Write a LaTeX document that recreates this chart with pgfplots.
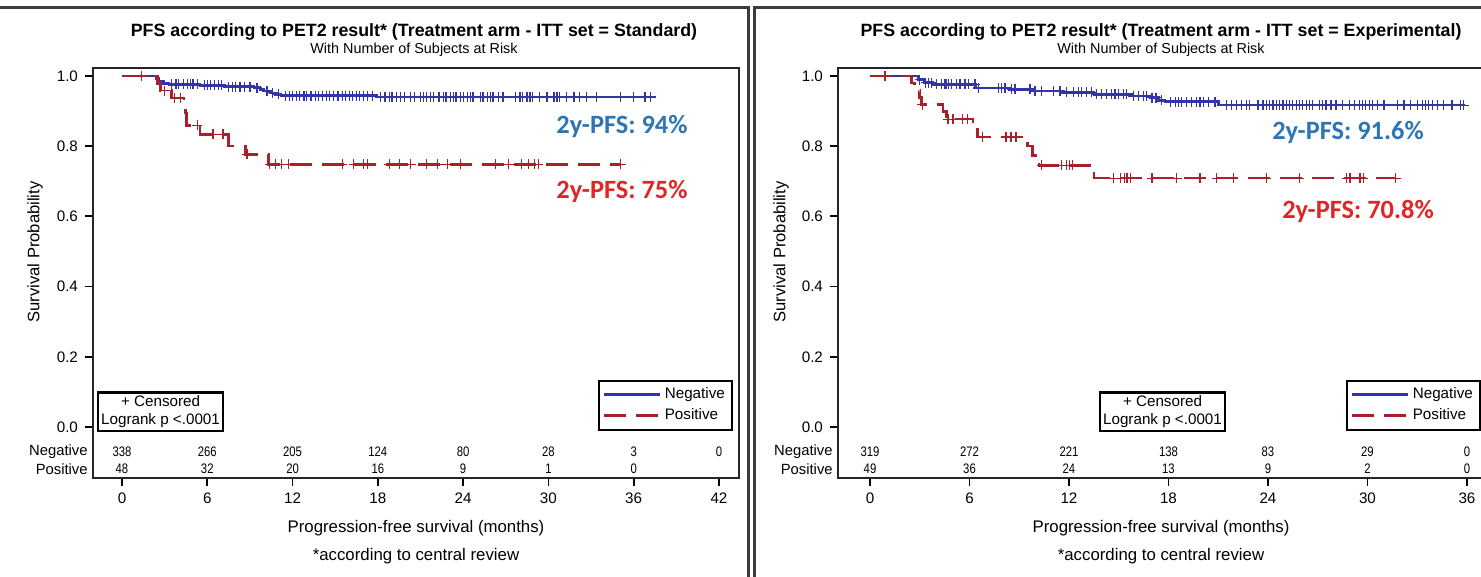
\documentclass[border=0pt]{standalone}
\usepackage{pgfplots}
\pgfplotsset{compat=1.18}
\usepackage{fontspec}
\setmainfont{Liberation Sans}
\newfontfamily\calib{Carlito}
\newfontfamily\narrow{Liberation Sans}[FakeStretch=0.82]
\definecolor{kmblue}{RGB}{52,52,170}
\definecolor{kmred}{RGB}{168,32,42}
\definecolor{annblue}{RGB}{46,117,182}
\definecolor{annred}{RGB}{222,38,38}
\definecolor{framegray}{RGB}{60,60,60}
\pgfplotsset{
  kmaxis/.style={
    scale only axis, height=205pt,
    ymin=-0.1453, ymax=1.0228,
    ytick={0,0.2,0.4,0.6,0.8,1.0},
    yticklabel style={/pgf/number format/.cd, fixed, fixed zerofill, precision=1, assume math mode=true},
    xticklabel style={/pgf/number format/assume math mode=true},
    tick label style={font=\fontsize{7.6}{9}\selectfont},
    xtick pos=bottom, ytick pos=left,
    tick align=outside, major tick length=4pt,
    tick style={black, line width=0.9pt},
    axis line style={line width=1.2pt, black!85},
    clip=false,
    legend cell align=left,
    legend image code/.code={\draw[#1] (0pt,0pt) -- (28pt,0pt);},
  },
  blueline/.style={color=kmblue, line width=1.3pt, const plot, no marks},
  redline/.style={color=kmred, line width=1.3pt, const plot, no marks, dash pattern=on 11pt off 5pt},
  bluecens/.style={only marks, mark=+, mark size=2.5pt, color=kmblue, mark options={line width=0.6pt, solid}},
  redcens/.style={only marks, mark=+, mark size=2.5pt, color=kmred, mark options={line width=0.6pt, solid}},
}
\begin{document}
\begin{tikzpicture}
\useasboundingbox (0,0) rectangle (740.5pt,288.5pt);
% ---------------- LEFT PANEL ----------------
\begin{axis}[kmaxis, width=323pt, at={(46.5pt,49.5pt)}, anchor=south west,
  xmin=-2.040, xmax=43.41, xtick={0,6,12,18,24,30,36,42},
  legend style={at={(axis cs:42.99,-0.0114)}, anchor=south east, draw=black, line width=1.2pt,
    font=\fontsize{7.6}{9}\selectfont, inner sep=1.5pt, row sep=-0.5pt}]
\addplot[blueline] coordinates {(0,1) (2.4,0.992) (2.6,0.985) (2.9,0.979) (3.3,0.976) (5.5,0.973) (7.2,0.970) (9.3,0.967) (9.7,0.962) (10.0,0.957) (10.4,0.952) (10.8,0.948) (11.2,0.944) (17.9,0.940) (37.6,0.940)};
\addlegendentry{Negative}
\addplot[redline] coordinates {(0,1) (2.5,0.979) (2.7,0.958) (3.5,0.937) (4.35,0.916) (4.45,0.895) (4.55,0.859) (5.5,0.834) (7.5,0.801) (8.7,0.777) (10.3,0.748) (35.1,0.748)};
\addlegendentry{Positive}
\addplot[bluecens, forget plot] coordinates {
(3.5,0.976) (3.8,0.976) (4.0,0.976) (4.3,0.976) (4.6,0.976) (4.8,0.976) (5.0,0.976) (5.3,0.976)
(5.8,0.973) (6.0,0.973) (6.2,0.973) (6.5,0.973) (6.8,0.973) (7.0,0.973)
(7.5,0.970) (7.8,0.970) (8.0,0.970) (8.3,0.970) (8.6,0.970) (9.0,0.970)
(9.5,0.967) (10.2,0.957) (10.6,0.952) (11.0,0.948)
(11.5,0.944) (11.8,0.944) (12.0,0.944) (12.3,0.944) (12.5,0.944) (12.8,0.944) (13.0,0.944) (13.3,0.944) (13.6,0.944) (13.8,0.944) (14.1,0.944) (14.4,0.944) (14.6,0.944) (14.9,0.944) (15.2,0.944) (15.5,0.944) (15.7,0.944) (16.0,0.944) (16.2,0.944) (16.5,0.944) (16.7,0.944) (17.0,0.944) (17.3,0.944) (17.6,0.944)
(18.2,0.940) (18.5,0.940) (18.8,0.940) (19.0,0.940) (19.3,0.940) (19.6,0.940) (19.9,0.940) (20.3,0.940) (20.6,0.940) (21.0,0.940) (21.2,0.940) (21.4,0.940) (21.7,0.940) (21.9,0.940) (22.3,0.940) (22.6,0.940) (22.8,0.940) (23.1,0.940) (23.3,0.940) (23.5,0.940) (23.8,0.940) (24.0,0.940) (24.3,0.940) (24.5,0.940) (24.7,0.940) (25.2,0.940) (25.4,0.940) (25.7,0.940) (25.9,0.940) (26.1,0.940) (26.5,0.940) (26.8,0.940) (27.7,0.940) (28.0,0.940) (28.2,0.940) (28.5,0.940) (28.7,0.940) (28.9,0.940) (29.4,0.940) (29.9,0.940) (30.4,0.940) (30.6,0.940) (30.8,0.940) (31.3,0.940) (31.8,0.940) (32.2,0.940) (32.7,0.940) (33.4,0.940) (35.1,0.940) (36.0,0.940) (36.8,0.940) (37.2,0.940)};
\addplot[redcens, forget plot] coordinates {
(1.4,1.0) (3.0,0.958) (3.7,0.937) (4.1,0.937) (5.3,0.859) (6.4,0.834) (7.1,0.834) (8.8,0.777)
(10.4,0.748) (10.8,0.748) (11.2,0.748) (11.7,0.748) (15.5,0.748) (16.3,0.748) (17.0,0.748) (17.3,0.748) (18.8,0.748) (19.5,0.748) (20.3,0.748) (21.4,0.748) (22.2,0.748) (22.9,0.748) (23.8,0.748) (26.3,0.748) (27.2,0.748) (28.1,0.748) (28.6,0.748) (29.0,0.748) (29.3,0.748) (35.1,0.748)};
% at-risk
\begin{scope}[every node/.style={font=\narrow\fontsize{6.9}{7}\selectfont}]
\node at (axis cs:0,-0.0712) {338}; \node at (axis cs:6,-0.0712) {266}; \node at (axis cs:12,-0.0712) {205};
\node at (axis cs:18,-0.0712) {124}; \node at (axis cs:24,-0.0712) {80}; \node at (axis cs:30,-0.0712) {28};
\node at (axis cs:36,-0.0712) {3}; \node at (axis cs:42,-0.0712) {0};
\node at (axis cs:0,-0.1197) {48}; \node at (axis cs:6,-0.1197) {32}; \node at (axis cs:12,-0.1197) {20};
\node at (axis cs:18,-0.1197) {16}; \node at (axis cs:24,-0.1197) {9}; \node at (axis cs:30,-0.1197) {1};
\node at (axis cs:36,-0.1197) {0};
\end{scope}
\node[anchor=east, inner sep=0pt, font=\fontsize{7.4}{8}\selectfont] at (axis cs:-2.39,-0.0712) {Negative};
\node[anchor=east, inner sep=0pt, font=\fontsize{7.4}{8}\selectfont] at (axis cs:-2.39,-0.1197) {Positive};
\node[draw=black, line width=1.2pt, align=center, anchor=south west, inner sep=1.5pt,
  font=\fontsize{7.6}{9}\selectfont] at (axis cs:-1.76,-0.0142) {+ Censored\\Logrank p <.0001};
\end{axis}
% ---------------- RIGHT PANEL ----------------
\begin{axis}[kmaxis, width=324.5pt, at={(419pt,49.5pt)}, anchor=south west,
  xmin=-1.930, xmax=37.21, xtick={0,6,12,18,24,30,36},
  legend style={at={(axis cs:36.85,-0.0114)}, anchor=south east, draw=black, line width=1.2pt,
    font=\fontsize{7.6}{9}\selectfont, inner sep=1.5pt, row sep=-0.5pt}]
\addplot[blueline] coordinates {(0,1) (2.9,0.990) (3.3,0.981) (3.8,0.976) (6.4,0.966) (8.4,0.962) (9.9,0.957) (11.5,0.953) (13.5,0.948) (15.8,0.943) (16.9,0.938) (17.4,0.931) (17.8,0.927) (21.0,0.917) (35.9,0.917)};
\addlegendentry{Negative}
\addplot[redline] coordinates {(0,1) (2.5,0.980) (2.7,0.959) (3.0,0.939) (3.1,0.918) (4.4,0.898) (4.6,0.877) (6.2,0.852) (6.5,0.826) (9.5,0.800) (9.8,0.774) (10.2,0.745) (13.5,0.709) (31.7,0.709)};
\addlegendentry{Positive}
\addplot[bluecens, forget plot] coordinates {
(3.0,0.990) (3.35,0.981) (3.55,0.981) (3.72,0.981) (4.02,0.976) (4.32,0.976) (4.52,0.976) (4.62,0.976) (4.72,0.976) (4.92,0.976) (5.23,0.976) (5.43,0.976) (5.73,0.976) (5.93,0.976) (6.33,0.976)
(6.53,0.966) (7.74,0.966) (7.94,0.966) (8.14,0.966) (8.54,0.962) (8.74,0.962) (9.65,0.962)
(9.95,0.957) (10.35,0.957) (11.06,0.957) (11.46,0.957) (11.86,0.953) (12.26,0.953) (12.56,0.953) (12.76,0.953) (13.07,0.953) (13.37,0.953)
(13.67,0.948) (13.97,0.948) (14.27,0.948) (14.57,0.948) (14.77,0.948) (14.97,0.948) (15.28,0.948) (15.48,0.948)
(15.88,0.943) (16.18,0.943) (16.48,0.943) (16.68,0.943) (17.0,0.938) (17.2,0.938) (17.3,0.938) (17.6,0.931)
(18.1,0.927) (18.4,0.927) (18.6,0.927) (18.8,0.927) (19.1,0.927) (19.4,0.927) (19.7,0.927) (19.9,0.927) (20.1,0.927) (20.4,0.927) (20.8,0.927)
(21.5,0.917) (21.8,0.917) (22.1,0.917) (22.4,0.917) (22.7,0.917) (22.9,0.917) (23.4,0.917) (23.7,0.917) (23.9,0.917) (24.1,0.917) (24.3,0.917) (24.5,0.917) (24.7,0.917) (24.9,0.917) (25.1,0.917) (25.3,0.917) (25.5,0.917) (25.7,0.917) (25.9,0.917) (26.1,0.917) (26.3,0.917) (26.5,0.917) (26.7,0.917) (27.1,0.917) (27.3,0.917) (27.5,0.917) (27.8,0.917) (28.1,0.917) (28.5,0.917) (28.9,0.917) (29.2,0.917) (29.5,0.917) (29.7,0.917) (29.9,0.917) (30.1,0.917) (30.3,0.917) (30.6,0.917) (31.0,0.917) (31.8,0.917) (32.2,0.917) (32.6,0.917) (33.0,0.917) (33.3,0.917) (33.5,0.917) (33.7,0.917) (33.9,0.917) (34.2,0.917) (34.6,0.917) (35.1,0.917) (35.6,0.917) (35.8,0.917)};
\addplot[redcens, forget plot] coordinates {
(0.9,1.0) (3.15,0.918) (4.7,0.877) (5.0,0.877) (5.6,0.877) (5.9,0.877) (6.8,0.826) (8.2,0.826) (8.5,0.826) (8.8,0.826)
(10.35,0.745) (11.55,0.745) (11.85,0.745) (12.05,0.745) (12.2,0.745)
(14.7,0.709) (15.1,0.709) (15.35,0.709) (15.5,0.709) (15.7,0.709) (17.0,0.709) (18.5,0.709) (19.9,0.709) (20.9,0.709) (21.9,0.709) (23.9,0.709) (25.9,0.709) (28.75,0.709) (28.95,0.709) (29.55,0.709) (29.75,0.709) (31.7,0.709)};
\begin{scope}[every node/.style={font=\narrow\fontsize{6.9}{7}\selectfont}]
\node at (axis cs:0,-0.0712) {319}; \node at (axis cs:6,-0.0712) {272}; \node at (axis cs:12,-0.0712) {221};
\node at (axis cs:18,-0.0712) {138}; \node at (axis cs:24,-0.0712) {83}; \node at (axis cs:30,-0.0712) {29};
\node at (axis cs:36,-0.0712) {0};
\node at (axis cs:0,-0.1197) {49}; \node at (axis cs:6,-0.1197) {36}; \node at (axis cs:12,-0.1197) {24};
\node at (axis cs:18,-0.1197) {13}; \node at (axis cs:24,-0.1197) {9}; \node at (axis cs:30,-0.1197) {2};
\node at (axis cs:36,-0.1197) {0};
\end{scope}
\node[anchor=east, inner sep=0pt, font=\fontsize{7.4}{8}\selectfont] at (axis cs:-2.23,-0.0712) {Negative};
\node[anchor=east, inner sep=0pt, font=\fontsize{7.4}{8}\selectfont] at (axis cs:-2.23,-0.1197) {Positive};
\node[draw=black, line width=1.2pt, align=center, anchor=south, inner sep=1.5pt,
  font=\fontsize{7.6}{9}\selectfont] at (axis cs:17.64,-0.0142) {+ Censored\\Logrank p <.0001};
\end{axis}
% ---------------- texts and frames (pixel coordinates) ----------------
\begin{scope}[shift={(0,288.5pt)}, x=0.5pt, y=-0.5pt]
\draw[framegray, line width=1.5pt] (-2,8) -- (748,8) -- (748,580);
\draw[framegray, line width=1.5pt] (754,580) -- (754,8) -- (1484,8);
\node[font=\bfseries\fontsize{8.9}{10}\selectfont] at (414,32) {PFS according to PET2 result* (Treatment arm - ITT set = Standard)};
\node[font=\fontsize{7.2}{9}\selectfont] at (414,50) {With Number of Subjects at Risk};
\node[font=\bfseries\fontsize{8.9}{10}\selectfont] at (1161,32) {PFS according to PET2 result* (Treatment arm - ITT set = Experimental)};
\node[font=\fontsize{7.2}{9}\selectfont] at (1161,50) {With Number of Subjects at Risk};
\node[font=\fontsize{8.4}{10}\selectfont] at (416,528) {Progression-free survival (months)};
\node[font=\fontsize{8.4}{10}\selectfont] at (416,556) {*according to central review};
\node[font=\fontsize{8.4}{10}\selectfont] at (1161,528) {Progression-free survival (months)};
\node[font=\fontsize{8.4}{10}\selectfont] at (1161,556) {*according to central review};
\node[font=\fontsize{8.3}{10}\selectfont, rotate=90] at (35,252) {Survival Probability};
\node[font=\fontsize{8.3}{10}\selectfont, rotate=90] at (781,252) {Survival Probability};
\node[font=\calib\bfseries\fontsize{13.2}{14}\selectfont, text=annblue] at (622,126) {2y-PFS: 94\%};
\node[font=\calib\bfseries\fontsize{13.2}{14}\selectfont, text=annred] at (622,191) {2y-PFS: 75\%};
\node[font=\calib\bfseries\fontsize{13.2}{14}\selectfont, text=annblue] at (1348,132) {2y-PFS: 91.6\%};
\node[font=\calib\bfseries\fontsize{13.2}{14}\selectfont, text=annred] at (1358,211) {2y-PFS: 70.8\%};
\end{scope}
\end{tikzpicture}
\end{document}
